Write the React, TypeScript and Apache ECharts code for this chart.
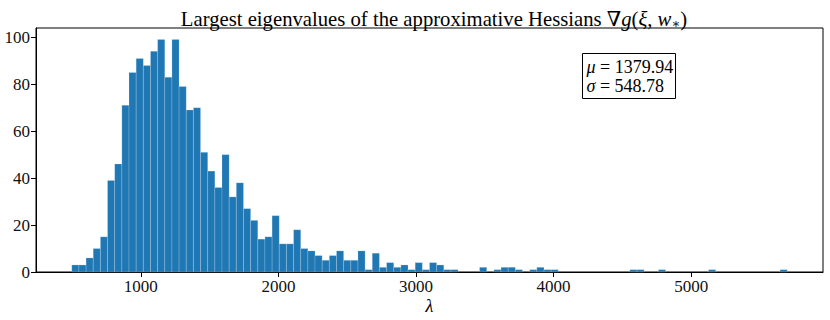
import React, { useEffect, useRef } from "react";
import * as echarts from "echarts";

const binStart = 498;
const binWidth = 52;
const counts = [
  3, 3, 6, 10, 15, 39, 46, 71, 85, 91,
  88, 94, 99, 83, 99, 79, 69, 70, 51, 43,
  36, 50, 32, 38, 27, 22, 14, 15, 24, 12,
  12, 18, 10, 9, 7, 5, 7, 9, 5, 5,
  9, 1, 8, 2, 4, 2, 3, 1, 4, 1,
  4, 3, 1, 1, 0, 0, 0, 2, 0, 1,
  2, 2, 1, 0, 1, 2, 1, 1, 0, 0,
  0, 0, 0, 0, 0, 0, 0, 0, 1, 1,
  0, 0, 1, 0, 0, 0, 0, 0, 0, 1,
  0, 0, 0, 0, 0, 0, 0, 0, 0, 1,
];
const xTicks = [1000, 2000, 3000, 4000, 5000];
const yTicks = [0, 20, 40, 60, 80, 100];
const xMin = 238;
const xMax = 5958;
const yMax = 103.95;
const mu = "1379.94";
const sigma = "548.78";

const FONT = "'Liberation Serif', 'DejaVu Serif', serif";

export default function App() {
  const ref = useRef<HTMLDivElement>(null);
  useEffect(() => {
    document.body.style.margin = "0";
    const chart = echarts.init(ref.current!, null, { renderer: "svg" });
    const data = counts.map((c, i) => [binStart + i * binWidth, binStart + (i + 1) * binWidth, c]);
    chart.setOption({
      animation: false,
      backgroundColor: "#fff",
      title: {
        text:
          "{n|Largest eigenvalues of the approximative Hessians ∇}{i|g}{n|(}{i|ξ}{n|, }{i|w}{s|∗}{n|)}",
        left: 429,
        top: 3,
        textAlign: "center",
        textStyle: {
          fontWeight: "normal",
          rich: {
            n: { fontFamily: FONT, fontSize: 20.7, fontWeight: "normal", color: "#000" },
            i: { fontFamily: FONT, fontSize: 20.7, fontWeight: "normal", fontStyle: "italic", color: "#000" },
            s: { fontFamily: FONT, fontSize: 13, fontWeight: "normal", color: "#000", verticalAlign: "bottom", padding: [9, 0, 0, 0] },
          },
        },
      },
      grid: {
        left: 36,
        top: 28,
        width: 787,
        height: 244,
        outerBoundsMode: "none",
        containLabel: false,
        show: true,
        borderColor: "#000",
        borderWidth: 1,
        backgroundColor: "transparent",
      },
      xAxis: {
        type: "value",
        min: xMin,
        max: xMax,
        name: "λ",
        nameLocation: "middle",
        nameGap: 34,
        nameMoveOverlap: false,
        nameTextStyle: { fontFamily: FONT, fontSize: 18, fontStyle: "italic", color: "#000", verticalAlign: "middle", lineHeight: 18 },
        axisLine: { show: true, onZero: false, lineStyle: { color: "#000", width: 1 } },
        axisTick: { show: true, inside: false, length: 5, lineStyle: { color: "#000" }, customValues: xTicks },
        axisLabel: {
          fontFamily: FONT,
          fontSize: 17,
          color: "#111",
          margin: 6,
          customValues: xTicks,
          formatter: (v: number) => String(v),
        },
        splitLine: { show: false },
      },
      yAxis: {
        type: "value",
        min: 0,
        max: yMax,
        axisLine: { show: true, lineStyle: { color: "#000", width: 1 } },
        axisTick: { show: true, inside: false, length: 5, lineStyle: { color: "#000" }, customValues: yTicks },
        axisLabel: {
          fontFamily: FONT,
          fontSize: 17,
          color: "#111",
          margin: 6,
          customValues: yTicks,
          formatter: (v: number) => String(v),
        },
        splitLine: { show: false },
      },
      series: [
        {
          type: "custom",
          data,
          encode: { x: [0, 1], y: 2 },
          renderItem: (params: any, api: any) => {
            const x0 = api.value(0);
            const x1 = api.value(1);
            const h = api.value(2);
            if (!h) return null;
            const p0 = api.coord([x0, h]);
            const p1 = api.coord([x1, 0]);
            return {
              type: "rect",
              shape: { x: p0[0], y: p0[1], width: p1[0] - p0[0], height: p1[1] - p0[1] },
              style: { fill: "#1f77b4", stroke: "rgba(255,255,255,0.3)", lineWidth: 0.6 },
            };
          },
        },
      ],
      graphic: [
        {
          type: "group",
          left: 582,
          top: 53,
          children: [
            {
              type: "rect",
              shape: { x: 0, y: 0, width: 93, height: 45 },
              style: { fill: "#fff", stroke: "#000", lineWidth: 1 },
            },
            {
              type: "text",
              x: 4,
              y: 4,
              style: {
                text: "{i|μ}{n| = " + mu + "}\n{i|σ}{n| = " + sigma + "}",
                rich: {
                  n: { fontFamily: FONT, fontSize: 18, fill: "#000", lineHeight: 19 },
                  i: { fontFamily: FONT, fontSize: 18, fontStyle: "italic", fill: "#000", lineHeight: 19 },
                },
              },
            },
          ],
        },
      ],
    });
    return () => chart.dispose();
  }, []);
  return <div ref={ref} style={{ width: 830, height: 320 }} />;
}
